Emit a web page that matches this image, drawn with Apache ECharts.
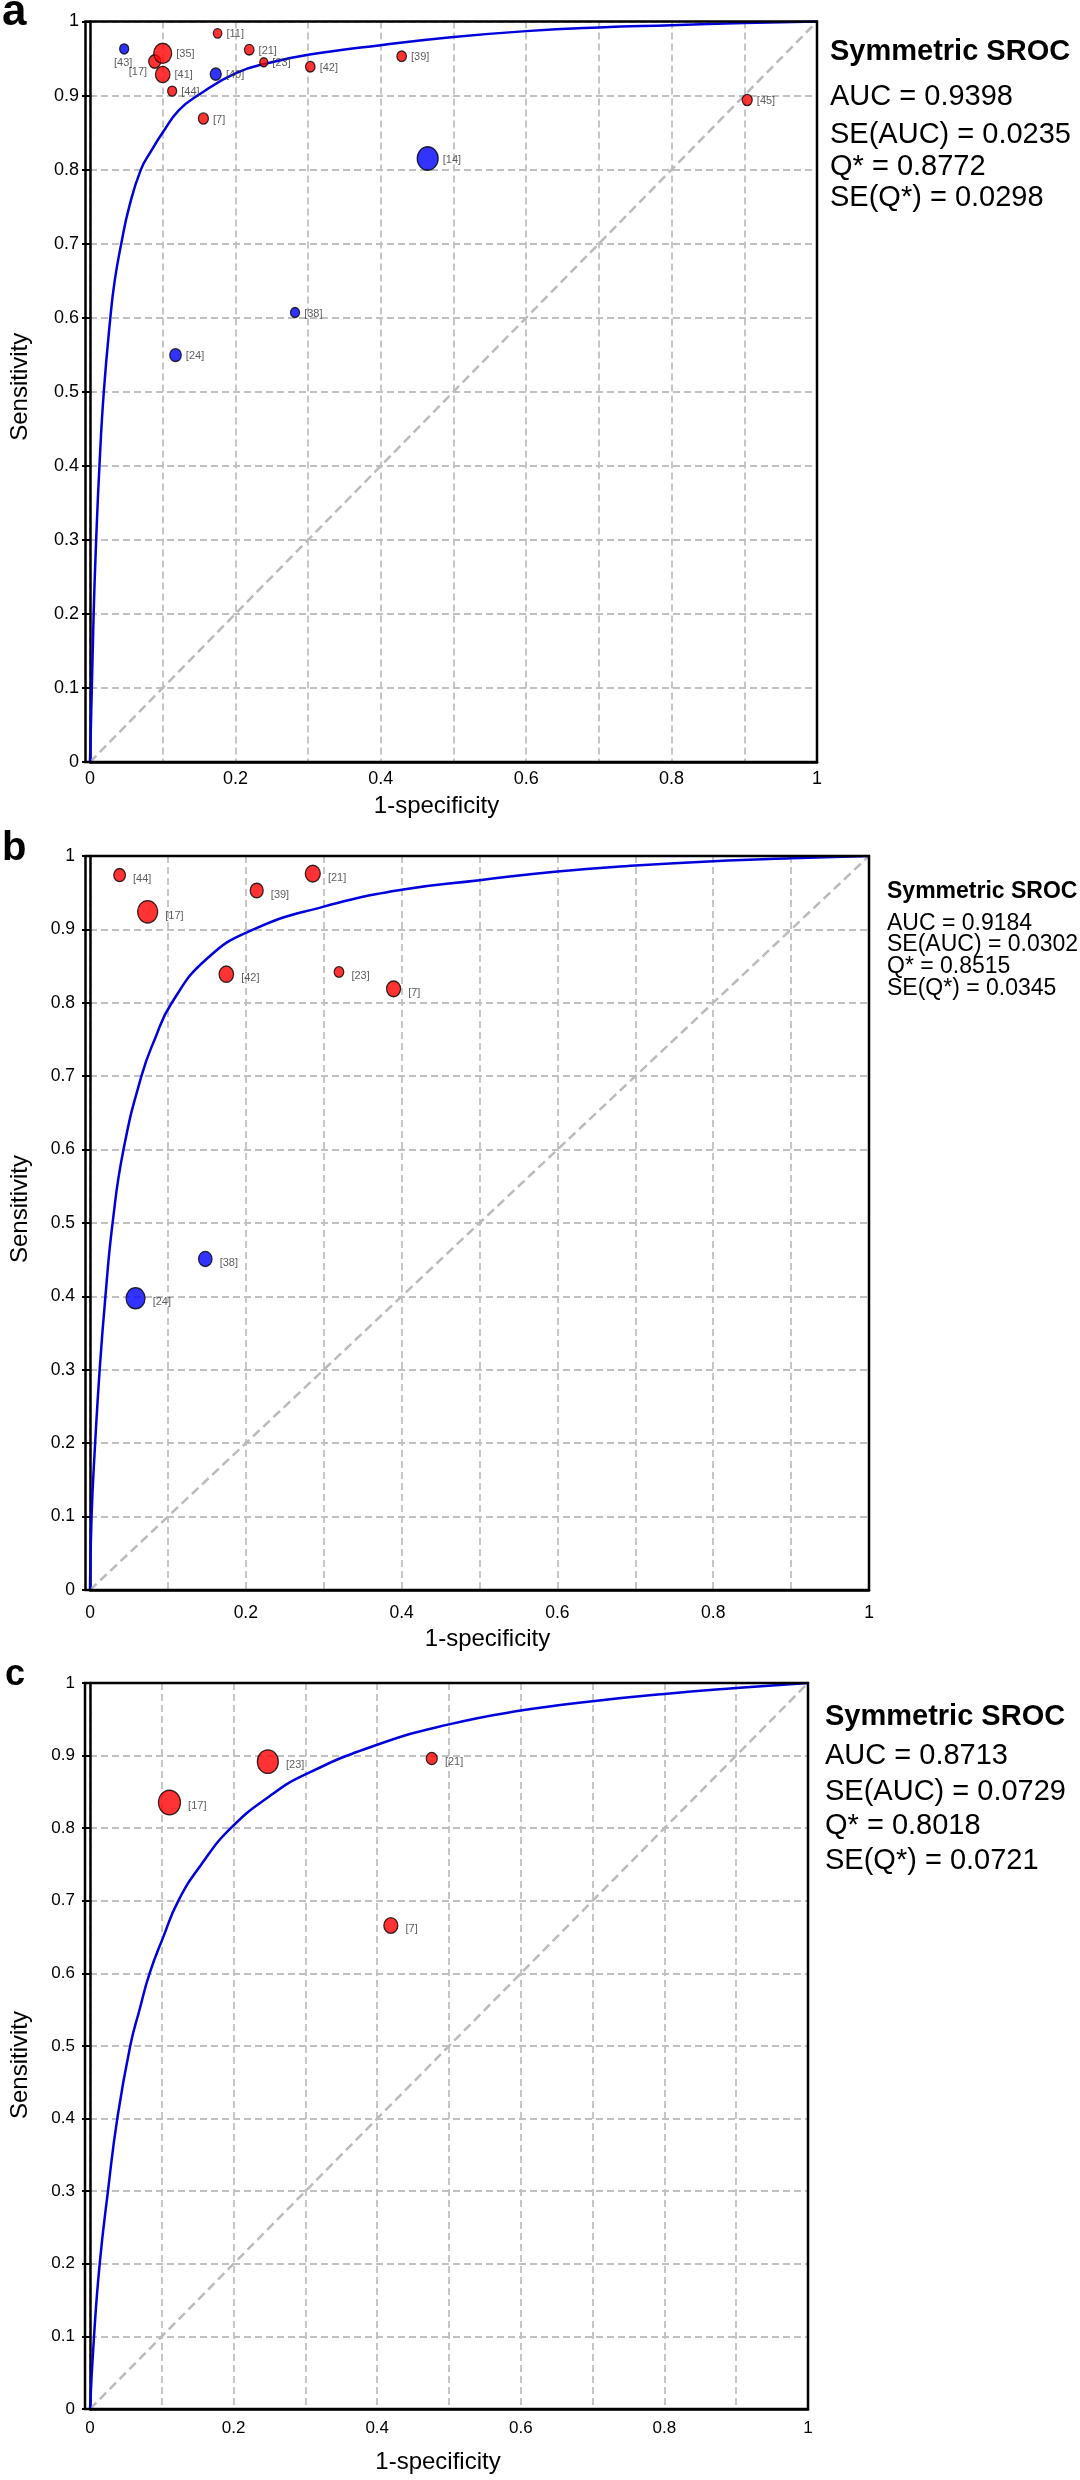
<!DOCTYPE html>
<html><head><meta charset="utf-8">
<script src="https://cdn.jsdelivr.net/npm/echarts@6/dist/echarts.min.js"></script>
<style>html,body{margin:0;padding:0;background:#fff}#c{width:1080px;height:2480px}</style>
</head><body><div id="c"></div>
<script>
// ---------- tick labels ----------
const xTickLabels = ['0', '0.2', '0.4', '0.6', '0.8', '1'];
const yTickLabels = ['0', '0.1', '0.2', '0.3', '0.4', '0.5', '0.6', '0.7', '0.8', '0.9', '1'];

// ---------- panel a ----------
const aStudy  = ['[43]', '[17]', '[35]', '[41]', '[44]', '[7]', '[11]', '[40]', '[21]', '[23]', '[42]', '[39]', '[14]', '[38]', '[24]', '[45]'];
const aFPR    = [0.047, 0.089, 0.100, 0.100, 0.113, 0.156, 0.1755, 0.173, 0.219, 0.239, 0.303, 0.4287, 0.4645, 0.282, 0.1176, 0.904];
const aSens   = [0.963, 0.946, 0.957, 0.9285, 0.906, 0.869, 0.984, 0.929, 0.962, 0.945, 0.939, 0.953, 0.815, 0.607, 0.5495, 0.894];
const aGroup  = ['B', 'R', 'R', 'R', 'R', 'R', 'R', 'B', 'R', 'R', 'R', 'R', 'B', 'B', 'B', 'R'];
const aWeight = [0.9, 1.2, 1.8, 1.45, 0.9, 1.0, 0.85, 1.1, 0.95, 0.8, 0.95, 0.95, 2.1, 0.9, 1.15, 1.0];
const aCurveX = [0, 0.005, 0.0085, 0.013, 0.019, 0.028, 0.034, 0.043, 0.054, 0.07, 0.084, 0.1, 0.122, 0.148, 0.2, 0.25, 0.3, 0.4, 0.5, 0.6, 0.7, 0.8, 0.9, 1];
const aCurveY = [0, 0.2, 0.3, 0.4, 0.5, 0.6, 0.65, 0.7, 0.75, 0.8, 0.825, 0.85, 0.88, 0.9, 0.93, 0.945, 0.955, 0.968, 0.979, 0.987, 0.992, 0.995, 0.998, 1];
const aStats  = ['AUC = 0.9398', 'SE(AUC) = 0.0235', 'Q* = 0.8772', 'SE(Q*) = 0.0298'];

// ---------- panel b ----------
const bStudy  = ['[44]', '[17]', '[39]', '[21]', '[42]', '[23]', '[7]', '[38]', '[24]'];
const bFPR    = [0.038, 0.074, 0.214, 0.286, 0.175, 0.3196, 0.3897, 0.148, 0.0585];
const bSens   = [0.974, 0.924, 0.953, 0.976, 0.839, 0.842, 0.819, 0.451, 0.3975];
const bGroup  = ['R', 'R', 'R', 'R', 'R', 'R', 'R', 'B', 'B'];
const bWeight = [1.17, 2.0, 1.3, 1.5, 1.45, 0.96, 1.4, 1.35, 1.9];
const bCurveX = [0, 0.002, 0.0066, 0.0124, 0.0198, 0.029, 0.043, 0.066, 0.083, 0.105, 0.15, 0.21, 0.3, 0.4, 0.5, 0.6, 0.7, 0.8, 0.9, 1];
const bCurveY = [0, 0.1, 0.2, 0.3, 0.4, 0.5, 0.6, 0.7, 0.75, 0.8, 0.86, 0.9, 0.931, 0.954, 0.967, 0.979, 0.987, 0.993, 0.997, 1];
const bStats  = ['AUC = 0.9184', 'SE(AUC) = 0.0302', 'Q* = 0.8515', 'SE(Q*) = 0.0345'];

// ---------- panel c ----------
const cStudy  = ['[17]', '[23]', '[21]', '[7]'];
const cFPR    = [0.1107, 0.2477, 0.476, 0.419];
const cSens   = [0.8353, 0.8917, 0.896, 0.666];
const cGroup  = ['R', 'R', 'R', 'R'];
const cWeight = [2.2, 2.1, 1.1, 1.4];
const cCurveX = [0, 0.0056, 0.0135, 0.025, 0.038, 0.056, 0.069, 0.083, 0.102, 0.123, 0.155, 0.196, 0.25, 0.3, 0.4, 0.5, 0.6, 0.7, 0.8, 0.9, 1];
const cCurveY = [0, 0.1, 0.2, 0.3, 0.4, 0.5, 0.55, 0.6, 0.65, 0.7, 0.75, 0.8, 0.844, 0.874, 0.915, 0.943, 0.962, 0.975, 0.985, 0.993, 1];
const cStats  = ['AUC = 0.8713', 'SE(AUC) = 0.0729', 'Q* = 0.8018', 'SE(Q*) = 0.0721'];

const statTitle = 'Symmetric SROC';
const xName = '1-specificity';
const yName = 'Sensitivity';

// ---------- layout / styles ----------
const FONT = '"Liberation Sans", Arial, sans-serif';
const RED = '#ff0000', BLUE = '#0000ff';
const panels = [
  { letter: 'a', study: aStudy, fpr: aFPR, sens: aSens, group: aGroup, weight: aWeight, cx: aCurveX, cy: aCurveY, stats: aStats,
    grid: { left: 85.5, top: 21.5, width: 731.5, height: 740.5 }, tickFont: 18, xMargin: 8, yMargin: 11,
    xNameGap: 32, xNamePad: [0, 34, 0, 0], yNameGap: 58, yNamePad: [0, 0, 0, 10],
    statX: 830, statFont: 29, statY: [51.5, 97, 135, 166.5, 198],
    letterPos: [2, 35], letterFont: 44, labelDist: 4, labelOff: [0, 1],
    special: { '[43]': { position: 'bottom', distance: 3, offset: [-1, 0] }, '[17]': { position: 'left', distance: 1, offset: [0, 10] } } },
  { letter: 'b', study: bStudy, fpr: bFPR, sens: bSens, group: bGroup, weight: bWeight, cx: bCurveX, cy: bCurveY, stats: bStats,
    grid: { left: 85.5, top: 856, width: 783.5, height: 734 }, tickFont: 17.5, xMargin: 14, yMargin: 15,
    xNameGap: 37, xNamePad: [0, 0, 0, 16], yNameGap: 58, yNamePad: [0, 0, 0, 28],
    statX: 887, statFont: 23, statY: [892, 923.6, 944.3, 967, 988.6],
    letterPos: [2, 869], letterFont: 40, labelDist: 7, labelOff: [0, 4], special: {} },
  { letter: 'c', study: cStudy, fpr: cFPR, sens: cSens, group: cGroup, weight: cWeight, cx: cCurveX, cy: cCurveY, stats: cStats,
    grid: { left: 85, top: 1683, width: 723, height: 726 }, tickFont: 17, xMargin: 11, yMargin: 15,
    xNameGap: 41, xNamePad: [0, 22, 0, 0], yNameGap: 58, yNamePad: [0, 38, 0, 0],
    statX: 825, statFont: 29, statY: [1717, 1756, 1792, 1826, 1861],
    letterPos: [5, 1693], letterFont: 36, labelDist: 7, labelOff: [0, 3], special: {} }
];

const grids = [], xAxes = [], yAxes = [], series = [], graphics = [];

panels.forEach((p, i) => {
  grids.push(Object.assign({ show: false }, p.grid));
  xAxes.push({
    gridIndex: i, type: 'value', min: 0, max: 1, interval: 0.1,
    name: xName, nameLocation: 'middle', nameGap: p.xNameGap,
    nameTextStyle: { fontFamily: FONT, fontSize: 24, color: '#000', padding: p.xNamePad },
    axisLine: { show: true, lineStyle: { color: '#000', width: 2.5 } },
    axisTick: { show: false },
    axisLabel: { margin: p.xMargin, fontFamily: FONT, fontSize: p.tickFont, color: '#000',
      formatter: v => { const k = Math.round(v * 10); return k % 2 === 0 ? xTickLabels[k / 2] : ''; } },
    splitLine: { show: true, lineStyle: { color: '#c0c0c0', width: 1.8, type: [7, 4] } }
  });
  yAxes.push({
    gridIndex: i, type: 'value', min: 0, max: 1, interval: 0.1,
    name: yName, nameLocation: 'middle', nameGap: p.yNameGap, nameRotate: 90,
    nameTextStyle: { fontFamily: FONT, fontSize: 24, color: '#000', padding: p.yNamePad },
    axisLine: { show: true, lineStyle: { color: '#000', width: 2.5 } },
    axisTick: { show: true, inside: false, length: 8, lineStyle: { color: '#000', width: 2 } },
    axisLabel: { margin: p.yMargin, fontFamily: FONT, fontSize: p.tickFont, color: '#000',
      formatter: v => yTickLabels[Math.round(v * 10)] },
    splitLine: { show: true, lineStyle: { color: '#c0c0c0', width: 1.8, type: [7, 4] } }
  });
  // chance diagonal
  series.push({
    type: 'line', xAxisIndex: i, yAxisIndex: i, data: [[0, 0], [1, 1]], showSymbol: false, silent: true,
    lineStyle: { color: '#bbbbbb', width: 2.5, type: [9, 5] }, z: 2
  });
  // SROC curve
  series.push({
    type: 'line', xAxisIndex: i, yAxisIndex: i, showSymbol: false, silent: true,
    smooth: 0.5,
    data: p.cx.map((x, k) => [x, p.cy[k]]),
    lineStyle: { color: '#0000dd', width: 2.5 }, z: 3
  });
  // study points
  const pts = p.study.map((s, k) => {
    const d = p.weight[k] * 10;
    const sp = p.special[s];
    const item = {
      name: s, value: [p.fpr[k], p.sens[k]],
      symbolSize: [d, d * 1.12],
      itemStyle: { color: p.group[k] === 'R' ? RED : BLUE, borderColor: '#000', borderWidth: 1.3 }
    };
    if (sp) item.label = { position: sp.position, distance: sp.distance, offset: sp.offset };
    return item;
  });
  series.push({
    type: 'scatter', xAxisIndex: i, yAxisIndex: i, symbol: 'circle', data: pts, z: 4,
    label: { show: true, position: 'right', distance: p.labelDist, offset: p.labelOff,
      formatter: '{b}', fontFamily: FONT, fontSize: 11, color: '#333' }
  });
  // plot frame (drawn above the dashed grid lines)
  graphics.push({ type: 'rect', z: 50, silent: true,
    shape: { x: p.grid.left, y: p.grid.top, width: p.grid.width, height: p.grid.height },
    style: { fill: null, stroke: '#000', lineWidth: 2.5 } });
  // panel letter
  graphics.push({ type: 'text', x: p.letterPos[0], y: p.letterPos[1],
    style: { text: p.letter, font: 'bold ' + p.letterFont + 'px ' + FONT, fill: '#000', verticalAlign: 'bottom' } });
  // stats block
  graphics.push({ type: 'text', x: p.statX, y: p.statY[0],
    style: { text: statTitle, font: 'bold ' + p.statFont + 'px ' + FONT, fill: '#000', verticalAlign: 'middle' } });
  p.stats.forEach((t, k) => {
    graphics.push({ type: 'text', x: p.statX, y: p.statY[k + 1],
      style: { text: t, font: p.statFont + 'px ' + FONT, fill: '#000', verticalAlign: 'middle' } });
  });
});

const chart = echarts.init(document.getElementById('c'), null, { renderer: 'canvas' });
chart.setOption({
  animation: false,
  backgroundColor: '#fff',
  grid: grids, xAxis: xAxes, yAxis: yAxes, series: series, graphic: graphics
});
</script>
</body></html>
